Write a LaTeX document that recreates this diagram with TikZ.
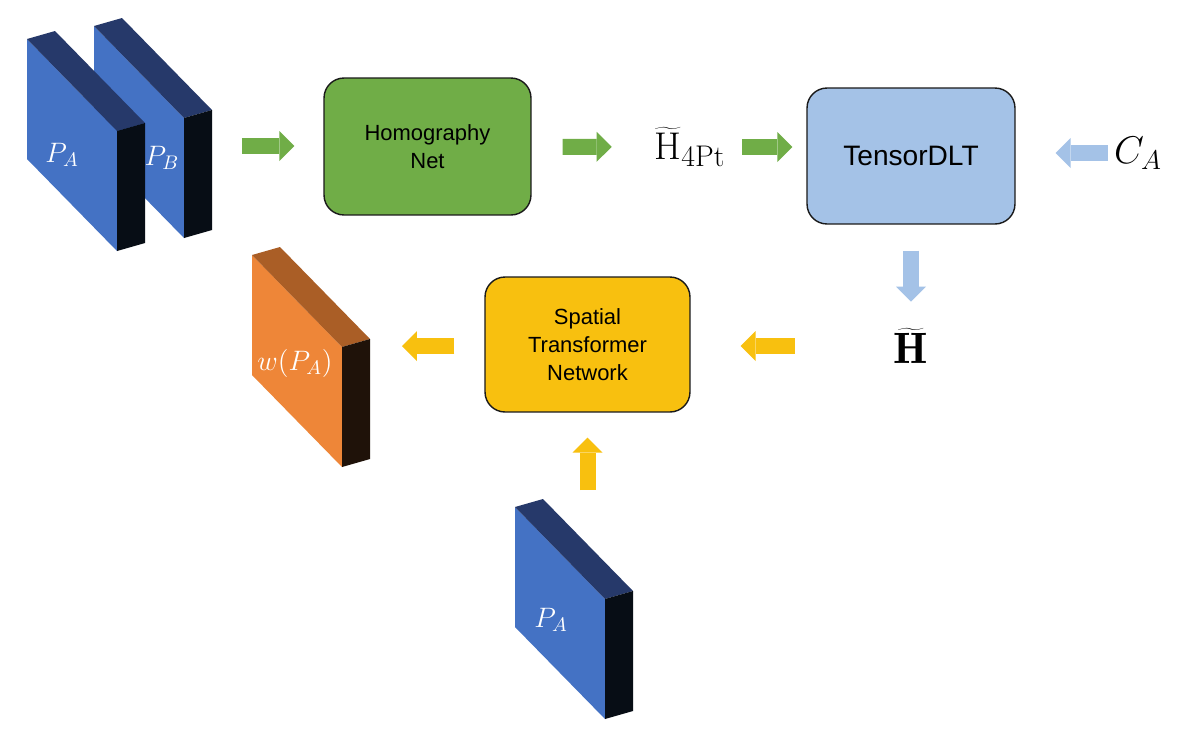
\RequirePackage{fix-cm}
\documentclass[tikz,border=0pt]{standalone}
\usepackage{fontspec}
\setsansfont{Liberation Sans}
\usetikzlibrary{arrows.meta}
\definecolor{slabfront}{HTML}{4472C4}
\definecolor{slabtop}{HTML}{26396A}
\definecolor{slabside}{HTML}{070D15}
\definecolor{warpfront}{HTML}{EE8638}
\definecolor{warptop}{HTML}{AA5E26}
\definecolor{warpside}{HTML}{1F1209}
\definecolor{netgreen}{HTML}{70AD47}
\definecolor{dltblue}{HTML}{A4C2E7}
\definecolor{stnyellow}{HTML}{F8C00F}
\definecolor{boxline}{HTML}{1A1A1A}
\tikzset{
	box/.style={draw=boxline,line width=0.8pt,rounded corners=0.4cm,align=center,font=\sffamily\fontsize{12.5}{16}\selectfont},
	mathlabel/.style={inner sep=0pt,font=\fontsize{22}{26}\selectfont},
	slablabel/.style={text=white,inner sep=0pt,font=\fontsize{16}{19}\selectfont},
	blockarrow/.style={line width=0.32cm,-{Triangle[width=0.6cm,length=0.3cm,line width=0pt]}}
}
\begin{document}
\begin{tikzpicture}[x=0.02cm,y=-0.02cm]
			\useasboundingbox (0,0) rectangle (1180,728);
			\fill[white] (0,0) rectangle (1180,728);
			% input patches
			\begin{scope}[shift={(94,26)}]
				\fill[slabfront] (0,0) -- (90,92) -- (90,212) -- (0,120) -- cycle;
				\fill[slabtop] (0,0) -- (28,-8) -- (118,84) -- (90,92) -- cycle;
				\fill[slabside] (90,92) -- (118,84) -- (118,204) -- (90,212) -- cycle;
			\end{scope}
			\begin{scope}[shift={(27,39)}]
				\fill[slabfront] (0,0) -- (90,92) -- (90,212) -- (0,120) -- cycle;
				\fill[slabtop] (0,0) -- (28,-8) -- (118,84) -- (90,92) -- cycle;
				\fill[slabside] (90,92) -- (118,84) -- (118,204) -- (90,212) -- cycle;
			\end{scope}
			\begin{scope}[shift={(252,255)}]
				\fill[warpfront] (0,0) -- (90,92) -- (90,212) -- (0,120) -- cycle;
				\fill[warptop] (0,0) -- (28,-8) -- (118,84) -- (90,92) -- cycle;
				\fill[warpside] (90,92) -- (118,84) -- (118,204) -- (90,212) -- cycle;
			\end{scope}
			\begin{scope}[shift={(515,507)}]
				\fill[slabfront] (0,0) -- (90,92) -- (90,212) -- (0,120) -- cycle;
				\fill[slabtop] (0,0) -- (28,-8) -- (118,84) -- (90,92) -- cycle;
				\fill[slabside] (90,92) -- (118,84) -- (118,204) -- (90,212) -- cycle;
			\end{scope}
			\node[slablabel] (PA) at (62,155) {$P_A$};
			\node[slablabel] (PB) at (162,158) {$P_B$};
			\node[slablabel] (wPA) at (295,363) {$w(P_A)$};
			\node[slablabel] (PAlow) at (551,620) {$P_A$};
			\coordinate (PBside) at (213,146);
			\coordinate (wside) at (370,346);
			\coordinate (PAtop) at (587.5,540);
			% blocks
			\node[box,fill=netgreen,minimum width=4.14cm,minimum height=2.74cm] (homo) at (427.5,146.5) {Homography\\Net};
			\node[box,fill=dltblue,minimum width=4.16cm,minimum height=2.72cm,font=\sffamily\fontsize{16}{19}\selectfont] (tdlt) at (911,156) {TensorDLT};
			\node[box,fill=stnyellow,minimum width=4.1cm,minimum height=2.7cm] (stn) at (587.5,344.5) {Spatial\\Transformer\\Network};
			\node[mathlabel,minimum width=1.8cm] (H4pt) at (690,147) {$\widetilde{\mathrm{H}}_{\mbox{\fontsize{17}{20}\selectfont 4Pt}}$};
			\node[mathlabel,minimum width=1.2cm] (CA) at (1138,153) {$C_A$};
			\node[mathlabel,minimum width=1.2cm,minimum height=1.4cm,font=\fontsize{25}{30}\selectfont] (Hbold) at (911,346) {$\widetilde{\mathbf{H}}$};
			% arrows
			\draw[blockarrow,netgreen,shorten <=0.58cm,shorten >=0.58cm] (PBside) -- (PBside -| homo.west);
			\draw[blockarrow,netgreen,shorten <=0.62cm,shorten >=0.66cm] (homo) -- (H4pt);
			\draw[blockarrow,netgreen,shorten <=0.14cm,shorten >=0.28cm] (H4pt) -- (H4pt -| tdlt.west);
			\draw[blockarrow,dltblue,shorten >=0.8cm] (CA) -- (CA -| tdlt.east);
			\draw[blockarrow,dltblue,shorten <=0.52cm,shorten >=0.18cm] (tdlt) -- (Hbold);
			\draw[blockarrow,stnyellow,shorten <=1.72cm,shorten >=1cm] (Hbold) -- (Hbold -| stn.east);
			\draw[blockarrow,stnyellow,shorten <=0.6cm,shorten >=0.64cm] (wside -| stn.west) -- (wside);
			\draw[blockarrow,stnyellow,shorten <=1cm,shorten >=0.5cm] (PAtop) -- (PAtop |- stn.south);
		\end{tikzpicture}
\end{document}
